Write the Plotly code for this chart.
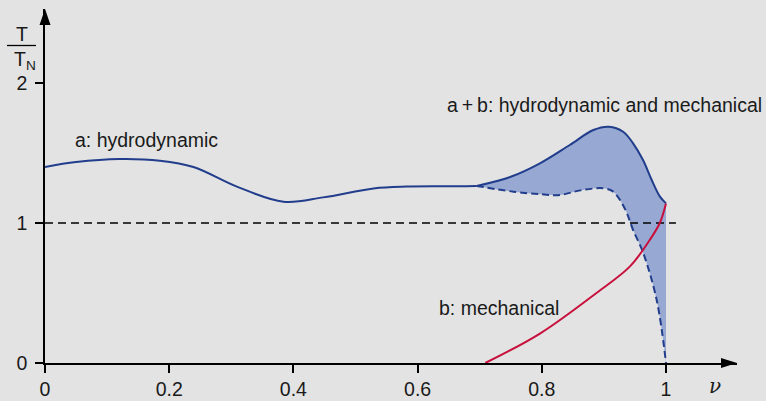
import plotly.graph_objects as go

# ---- data ----
a_x = [0, 0.05, 0.12, 0.185, 0.239, 0.309, 0.384, 0.448, 0.529, 0.582, 0.663, 0.695]
a_y = [1.40, 1.435, 1.457, 1.445, 1.40, 1.26, 1.152, 1.183, 1.247, 1.26, 1.262, 1.265]

ab_upper_x = [0.695, 0.75, 0.797, 0.845, 0.883, 0.908, 0.931, 0.947, 0.963, 0.977, 0.99, 1.0]
ab_upper_y = [1.265, 1.33, 1.426, 1.557, 1.664, 1.688, 1.652, 1.569, 1.45, 1.307, 1.19, 1.14]

ab_lower_x = [0.695, 0.754, 0.8, 0.829, 0.862, 0.899, 0.915, 0.934, 0.947, 0.963, 0.985, 1.0]
ab_lower_y = [1.265, 1.224, 1.205, 1.20, 1.233, 1.248, 1.224, 1.10, 0.95, 0.79, 0.45, 0.0]

b_x = [0.709, 0.797, 0.888, 0.942, 0.974, 0.99, 1.0]
b_y = [0.0, 0.21, 0.50, 0.69, 0.88, 1.0, 1.14]

ref_x = [0, 1.016]
ref_y = [1, 1]

x_ticks = [0, 0.2, 0.4, 0.6, 0.8, 1.0]
x_tick_labels = ["0", "0.2", "0.4", "0.6", "0.8", "1"]
y_ticks = [0, 1, 2]
y_tick_labels = ["0", "1", "2"]

# ---- style ----
BG = "#e3e3e3"
NAVY = "#213d8c"
FILL = "#97a8d2"
RED = "#c8103c"
FONT = "Liberation Sans, Arial, sans-serif"
FS = 19.5

fig = go.Figure()

# fill region between lower and upper a+b
fig.add_trace(go.Scatter(x=ab_lower_x, y=ab_lower_y, mode="lines",
                         line=dict(width=0, shape="spline", color=FILL),
                         hoverinfo="skip", showlegend=False))
fig.add_trace(go.Scatter(x=ab_upper_x, y=ab_upper_y, mode="lines",
                         line=dict(width=0, shape="spline", color=FILL),
                         fill="tonexty", fillcolor=FILL,
                         hoverinfo="skip", showlegend=False))

# reference dashed line
fig.add_trace(go.Scatter(x=ref_x, y=ref_y, mode="lines",
                         line=dict(color="black", width=1.3, dash="8px,5px"),
                         showlegend=False, cliponaxis=False))

# curves
fig.add_trace(go.Scatter(x=a_x, y=a_y, mode="lines",
                         line=dict(color=NAVY, width=2, shape="spline"),
                         showlegend=False))
fig.add_trace(go.Scatter(x=ab_upper_x, y=ab_upper_y, mode="lines",
                         line=dict(color=NAVY, width=2, shape="spline"),
                         showlegend=False))
fig.add_trace(go.Scatter(x=ab_lower_x, y=ab_lower_y, mode="lines",
                         line=dict(color=NAVY, width=2, shape="spline", dash="7px,4px"),
                         showlegend=False, cliponaxis=False))
fig.add_trace(go.Scatter(x=b_x, y=b_y, mode="lines",
                         line=dict(color=RED, width=2, shape="spline"),
                         showlegend=False, cliponaxis=False))

W, H = 766, 401
L, R, T, B = 45, 29, 9, 38
plot_w = W - L - R
plot_h = H - T - B
x_max = plot_w / 621.0
y_max = plot_h / 140.0


def px_x(p):
    return (p - L) / plot_w


def px_y(p):
    return (H - B - p) / plot_h


fig.update_layout(
    width=W, height=H,
    margin=dict(l=L, r=R, t=T, b=B, pad=0, autoexpand=False),
    paper_bgcolor=BG, plot_bgcolor=BG,
    font=dict(family=FONT, size=FS, color="#1a1a1a"),
    xaxis=dict(range=[0, x_max], showgrid=False, zeroline=False, automargin=False,
               showline=True, linecolor="black", linewidth=1.5,
               ticks="outside", ticklen=8, tickwidth=1.5, tickcolor="black",
               tickvals=x_ticks, ticktext=x_tick_labels, fixedrange=True),
    yaxis=dict(range=[0, y_max], showgrid=False, zeroline=False, automargin=False,
               showline=True, linecolor="black", linewidth=1.5,
               ticks="outside", ticklen=8, tickwidth=1.5, tickcolor="black",
               tickvals=y_ticks, ticktext=y_tick_labels, fixedrange=True,
               ticklabelstandoff=4),
)

# arrowheads
fig.add_shape(type="path", xref="paper", yref="paper", xsizemode="pixel", ysizemode="pixel",
              xanchor=1, yanchor=0, path="M 0 0 L -16 5 L -16 -5 Z",
              fillcolor="black", line=dict(width=0), layer="above")
fig.add_shape(type="path", xref="paper", yref="paper", xsizemode="pixel", ysizemode="pixel",
              xanchor=0, yanchor=1, path="M 0 0 L -5.5 -16 L 5.5 -16 Z",
              fillcolor="black", line=dict(width=0), layer="above")

# labels
fig.add_annotation(x=px_x(73), y=px_y(140), xref="paper", yref="paper", text="a: hydrodynamic",
                   showarrow=False, xanchor="left", yanchor="middle")
fig.add_annotation(x=px_x(764), y=px_y(105), xref="paper", yref="paper",
                   text="a\u2009+\u2009b: hydrodynamic and mechanical",
                   showarrow=False, xanchor="right", yanchor="middle")
fig.add_annotation(x=px_x(437), y=px_y(308), xref="paper", yref="paper", text="b: mechanical",
                   showarrow=False, xanchor="left", yanchor="middle")
fig.add_annotation(x=px_x(715), y=px_y(400), xref="paper", yref="paper",
                   text="<i>ν</i>", showarrow=False, xanchor="center", yanchor="bottom",
                   font=dict(family="DejaVu Serif, Liberation Serif, serif", size=20))

# y-axis label  T / T_N
fig.add_annotation(x=px_x(22), y=px_y(34), xref="paper", yref="paper",
                   text="T", showarrow=False, xanchor="center", yanchor="middle")
fig.add_annotation(x=px_x(25), y=px_y(61), xref="paper", yref="paper",
                   text="T<sub>N</sub>", showarrow=False, xanchor="center", yanchor="middle")
fig.add_shape(type="line", xref="paper", yref="paper", x0=px_x(7), x1=px_x(36),
              y0=px_y(45.5), y1=px_y(45.5),
              line=dict(color="black", width=1.3))

fig.write_html(
    "out.html",
    config={"displayModeBar": False},
    post_script="document.body.style.margin='0';document.body.style.overflow='hidden';"
                "document.body.style.background='" + BG + "';",
)
